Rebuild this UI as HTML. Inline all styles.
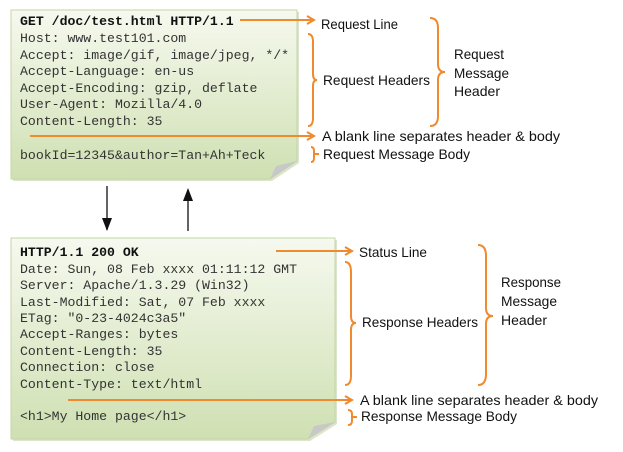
<!DOCTYPE html>
<html><head><meta charset="utf-8"><style>
html,body{margin:0;padding:0;background:#fff;width:623px;height:452px;overflow:hidden}
svg{display:block}
.m{font-family:"Liberation Mono",monospace;font-size:13.2px;fill:#333}
.b{font-weight:bold;fill:#111}
.l{font-family:"Liberation Sans",sans-serif;font-size:14px;fill:#111}
.o{stroke:#ef8a2e;stroke-width:2;fill:none}
</style></head><body>
<svg width="623" height="452" viewBox="0 0 623 452" xmlns="http://www.w3.org/2000/svg">
<defs>
<linearGradient id="g" x1="0" y1="0" x2="0" y2="1">
<stop offset="0" stop-color="#f6f9ef"/><stop offset="1" stop-color="#cfe0b2"/>
</linearGradient>
<marker id="a" markerWidth="10" markerHeight="10" refX="8" refY="5" orient="auto" markerUnits="userSpaceOnUse">
<path d="M1,1 L8,5 L1,9" fill="none" stroke="#ef8a2e" stroke-width="2"/></marker>
</defs>
<path d="M13,12 H299 V163 L272,181 H13 Z" fill="#b7c99a" opacity="0.5"/>
<path d="M11,10 H297 V161 L270,179 H11 Z" fill="url(#g)" stroke="#c4d5a6" stroke-width="1"/>
<path d="M270,179 L276,166 L297,161 Z" fill="#c8c8c8"/>
<path d="M13,240 H337 V424 L310,441 H13 Z" fill="#b7c99a" opacity="0.5"/>
<path d="M11,238 H335 V422 L308,439 H11 Z" fill="url(#g)" stroke="#c4d5a6" stroke-width="1"/>
<path d="M308,439 L314,426 L335,422 Z" fill="#c8c8c8"/>
<text class="m b" x="20" y="25">GET /doc/test.html HTTP/1.1</text>
<text class="m" x="20" y="42">Host: www.test101.com</text>
<text class="m" x="20" y="59">Accept: image/gif, image/jpeg, */*</text>
<text class="m" x="20" y="75">Accept-Language: en-us</text>
<text class="m" x="20" y="92">Accept-Encoding: gzip, deflate</text>
<text class="m" x="20" y="108">User-Agent: Mozilla/4.0</text>
<text class="m" x="20" y="125">Content-Length: 35</text>
<text class="m" x="20" y="159">bookId=12345&amp;author=Tan+Ah+Teck</text>
<text class="m b" x="20" y="256">HTTP/1.1 200 OK</text>
<text class="m" x="20" y="273">Date: Sun, 08 Feb xxxx 01:11:12 GMT</text>
<text class="m" x="20" y="289">Server: Apache/1.3.29 (Win32)</text>
<text class="m" x="20" y="306">Last-Modified: Sat, 07 Feb xxxx</text>
<text class="m" x="20" y="322">ETag: "0-23-4024c3a5"</text>
<text class="m" x="20" y="338">Accept-Ranges: bytes</text>
<text class="m" x="20" y="355">Content-Length: 35</text>
<text class="m" x="20" y="371">Connection: close</text>
<text class="m" x="20" y="388">Content-Type: text/html</text>
<text class="m" x="20" y="420">&lt;h1&gt;My Home page&lt;/h1&gt;</text>
<line x1="107" y1="186" x2="107" y2="230" stroke="#111" stroke-width="1.3"/>
<path d="M102,218 L112,218 L107,231 Z" fill="#111"/>
<line x1="188" y1="190" x2="188" y2="231" stroke="#111" stroke-width="1.3"/>
<path d="M183,201 L193,201 L188,188 Z" fill="#111"/>
<line class="o" x1="240" y1="20" x2="314" y2="20" marker-end="url(#a)"/>
<text class="l" x="321" y="29" textLength="77" lengthAdjust="spacingAndGlyphs">Request Line</text>
<path class="o" d="M308,34 Q313,34 313,42 V74 Q313,80 317,80 Q313,80 313,86 V118 Q313,126 308,126"/>
<text class="l" x="323" y="85" textLength="107" lengthAdjust="spacingAndGlyphs">Request Headers</text>
<path class="o" d="M430,18 Q438,18 438,28 V64 Q438,72 445,72 Q438,72 438,80 V116 Q438,126 430,126"/>
<text class="l" x="454" y="59" textLength="50" lengthAdjust="spacingAndGlyphs">Request</text>
<text class="l" x="454" y="78" textLength="55" lengthAdjust="spacingAndGlyphs">Message</text>
<text class="l" x="454" y="96" textLength="46" lengthAdjust="spacingAndGlyphs">Header</text>
<line class="o" x1="30" y1="136" x2="314" y2="136" marker-end="url(#a)"/>
<text class="l" x="322" y="141" textLength="238" lengthAdjust="spacingAndGlyphs">A blank line separates header &amp; body</text>
<path class="o" d="M311,147 Q314,147 314,151 V154 H319 M314,154 V158 Q314,162 311,162"/>
<text class="l" x="323" y="159" textLength="147" lengthAdjust="spacingAndGlyphs">Request Message Body</text>
<line class="o" x1="276" y1="251" x2="352" y2="251" marker-end="url(#a)"/>
<text class="l" x="359" y="257" textLength="68" lengthAdjust="spacingAndGlyphs">Status Line</text>
<path class="o" d="M345,262 Q351,262 351,272 V316 Q351,323 356,323 Q351,323 351,330 V376 Q351,385 345,385"/>
<text class="l" x="362" y="327" textLength="116" lengthAdjust="spacingAndGlyphs">Response Headers</text>
<path class="o" d="M478,245 Q486,245 486,256 V308 Q486,316 493,316 Q486,316 486,324 V374 Q486,385 478,385"/>
<text class="l" x="501" y="287" textLength="60" lengthAdjust="spacingAndGlyphs">Response</text>
<text class="l" x="501" y="306" textLength="56" lengthAdjust="spacingAndGlyphs">Message</text>
<text class="l" x="501" y="325" textLength="46" lengthAdjust="spacingAndGlyphs">Header</text>
<line class="o" x1="68" y1="400" x2="352" y2="400" marker-end="url(#a)"/>
<text class="l" x="360" y="405" textLength="238" lengthAdjust="spacingAndGlyphs">A blank line separates header &amp; body</text>
<path class="o" d="M348,410 Q352,410 352,414 V417 H357 M352,417 V421 Q352,425 348,425"/>
<text class="l" x="361" y="421" textLength="156" lengthAdjust="spacingAndGlyphs">Response Message Body</text>
</svg>
</body></html>
